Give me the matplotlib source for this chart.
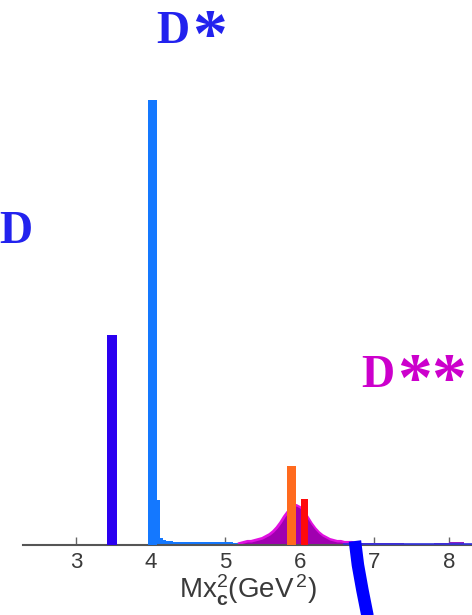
import matplotlib.pyplot as plt

plt.rcParams["mathtext.fontset"] = "custom"
plt.rcParams["mathtext.rm"] = "Liberation Sans"
plt.rcParams["mathtext.it"] = "Liberation Sans"
plt.rcParams["mathtext.bf"] = "Liberation Sans:bold"

# - Data (arbitrary units)

peak_x = [3.48, 4.02, 5.89, 6.06]
peak_h = [210, 445, 79, 46]
peak_w = [0.13, 0.12, 0.12, 0.09]
peak_colors = ["#2a00f0", "#1478ff", "#ff6a1e", "#ff0a0a"]

dstar_tail_x = [4.08, 4.12, 4.16, 4.20, 4.30, 4.50, 4.70, 4.90, 5.10, 5.30, 5.40]
dstar_tail_h = [45, 7, 5, 4, 3, 3, 3, 3, 2, 2, 0]

dss_x = [5.20, 5.25, 5.30, 5.35, 5.40, 5.45, 5.50, 5.55, 5.60, 5.65, 5.70, 5.75, 5.80,
         5.85, 5.90, 5.95, 6.00, 6.05, 6.10, 6.15, 6.20, 6.25, 6.30, 6.35, 6.40,
         6.45, 6.50, 6.55, 6.60, 6.65, 6.70, 6.75]
dss_h = [1, 2, 3, 3, 4, 5, 6, 8, 10, 13, 17, 22, 28, 33, 37, 39, 37, 33, 27, 21,
         16, 12, 9, 7, 5, 4, 3, 3, 2, 2, 2, 1]

tail_x = [6.8, 7.0, 7.2, 7.4, 7.6, 7.8, 8.0, 8.2, 8.31]
tail_h = [2, 2, 2, 1, 1, 2, 3, 1, 1]

overflow_x = [6.74, 6.78, 6.84, 6.92, 6.98]
overflow_y = [4, -20, -45, -75, -95]

xticks = [3, 4, 5, 6, 7, 8]

# - Figure

fig = plt.figure(figsize=(4.72, 6.15), dpi=100)
ax = fig.add_axes([0.049, 0.1138, 0.951, 0.8537])
ax.set_xlim(2.29, 8.31)
ax.set_ylim(0, 525)

# - Histograms

ax.fill_between(dstar_tail_x, dstar_tail_h, step="post", color="#1478ff", lw=0, zorder=2)
ax.plot(dss_x, dss_h, color="#e010e0", lw=3, zorder=2)
ax.fill_between(dss_x, dss_h, color="#a000b0", lw=0, zorder=2)
ax.fill_between(tail_x, tail_h, step="post", color="#9020c0", lw=0, zorder=2)
ax.bar(peak_x, peak_h, width=peak_w, color=peak_colors, zorder=3)
ax.plot([6.6, 8.31], [0.8, 0.8], color="#3030e0", lw=1.2, zorder=3)

# - Overflowing curve below the axis

ax.plot(overflow_x, overflow_y, color="#0000ff", lw=9, solid_capstyle="butt", clip_on=False, zorder=5)

# - Axis styling

for side in ["left", "right", "top"]:
    ax.spines[side].set_visible(False)
ax.spines["bottom"].set_color("#555555")
ax.spines["bottom"].set_linewidth(1.5)
ax.set_yticks([])
ax.set_xticks(xticks)
ax.tick_params(axis="x", direction="in", length=6, width=1, color="#666666",
               labelsize=16, labelcolor="#3a3a3a", pad=5)
for lab in ax.get_xticklabels():
    lab.set_fontfamily("Liberation Sans")

ax.set_xlabel(r"Mx$^{2}_{\mathbf{c}}$(GeV$^{\,2}$)", fontsize=20, color="#3a3a3a",
              labelpad=0, fontfamily="Liberation Sans")

# - Peak labels (the asterisks are set larger than the letters)


def peak_label(x_px, base_px, stars, color):
    fig.text(x_px / 472, 1 - base_px / 615, "D", fontsize=33, fontweight="bold",
             family="Liberation Serif", color=color, ha="left", va="baseline")
    for k in range(stars):
        fig.text((x_px + 36 + 34 * k) / 472, 1 - (base_px + 14) / 615, "*", fontsize=50,
                 fontweight="bold", family="Liberation Serif", color=color, ha="left", va="baseline")


peak_label(-1, 243, 0, "#2222ee")
peak_label(156, 43, 1, "#2222ee")
peak_label(361, 387, 2, "#cc00cc")

plt.savefig("out.png", dpi=100)
